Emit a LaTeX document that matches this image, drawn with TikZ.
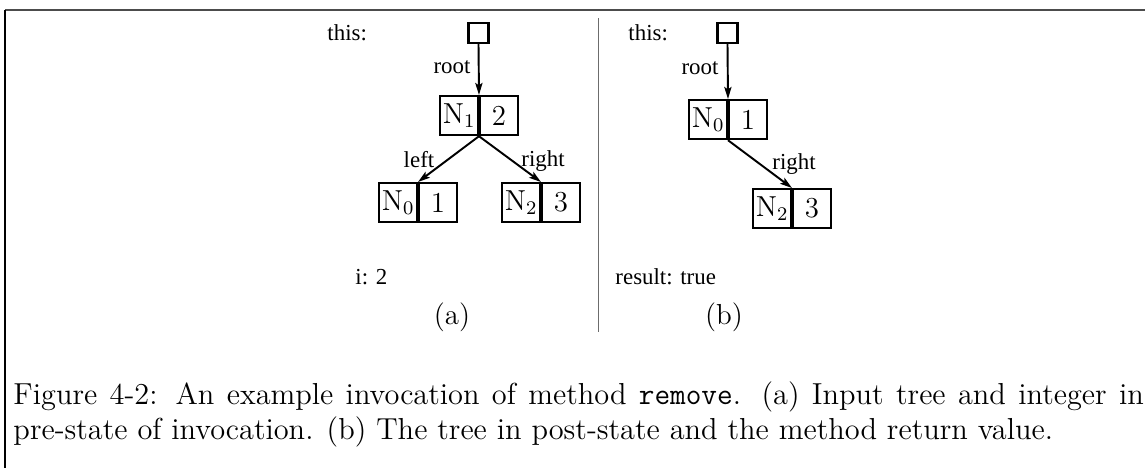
\documentclass[tikz,border=0pt]{standalone}
\usepackage{fontspec}
\newfontfamily\lblfont{Liberation Serif}
\usetikzlibrary{arrows.meta}
\tikzset{
  cell/.style={draw, line width=0.9pt, minimum width=15.6pt, minimum height=16.2pt, inner sep=0pt, font=\fontsize{12}{14}\selectfont},
  ptr/.style={draw, line width=0.9pt, minimum size=8.3pt, inner sep=0pt},
  lbl/.style={font=\lblfont\fontsize{9.5}{11}\selectfont, inner sep=0pt},
  sub/.style={font=\fontsize{12}{14}\selectfont, inner sep=0pt},
  link/.style={line width=0.8pt, -{Stealth[length=5pt,width=3pt,inset=1pt]}},
  frameline/.style={line width=0.5pt}
}
\begin{document}
\begin{tikzpicture}[x=0.4149pt,y=-0.4149pt]
\useasboundingbox (0,0) rectangle (1145,468);
% frame lines
\draw[frameline, gray!60!black] (5,10) coordinate (tl) -- (1145,10) coordinate (tr);
\draw[frameline, black] (tl) -- (5,468) coordinate (bl);
\draw[line width=0.8pt, gray!85!black] (598.5,18) coordinate (dt) -- (598.5,332) coordinate (db);
% ---- panel (a)
\node[lbl, anchor=west] (thisA) at (327,33) {this:};
\node[ptr] (ptrA) at (478.5,33) {};
\node[cell, anchor=north east] (n1k) at (479,95) {N$_1$};
\node[cell, anchor=north west] (n1v) at (479,95) {2};
\node[cell, anchor=north east] (n0k) at (418,182) {N$_0$};
\node[cell, anchor=north west] (n0v) at (418,182) {1};
\node[cell, anchor=north east] (n2k) at (541,182) {N$_2$};
\node[cell, anchor=north west] (n2v) at (541,182) {3};
\draw[link] (ptrA.south) -- (n1k.north east);
\draw[link] (n1k.south east) -- (n0k.north east);
\draw[link] (n1k.south east) -- (n2k.north east);
\node[lbl] (rootA) at (452,67) {root};
\node[lbl] (leftA) at (419,160) {left};
\node[lbl] (rightA) at (543,161) {right};
\node[lbl, anchor=west] (iA) at (355,277) {i: 2};
\node[sub] (capA) at (452,317) {(a)};
% ---- panel (b)
\node[lbl, anchor=west] (thisB) at (628,33) {this:};
\node[ptr] (ptrB) at (727.5,33) {};
\node[cell, anchor=north east] (m0k) at (728,99) {N$_0$};
\node[cell, anchor=north west] (m0v) at (728,99) {1};
\node[cell, anchor=north east] (m2k) at (792,188) {N$_2$};
\node[cell, anchor=north west] (m2v) at (792,188) {3};
\draw[link] (ptrB.south) -- (m0k.north east);
\draw[link] (m0k.south east) -- (m2k.north east);
\node[lbl] (rootB) at (700,68) {root};
\node[lbl] (rightB) at (794,164) {right};
\node[lbl, anchor=west] (resB) at (615,277) {result: true};
\node[sub] (capB) at (724,317) {(b)};
% ---- caption
\node[anchor=north west, inner sep=0pt, text width=469pt, align=justify,
      font=\fontsize{12.6}{14.5}\selectfont] (caption) at (13,381)
  {Figure 4-2: An example invocation of method \texttt{remove}. (a) Input tree and integer in\linebreak pre-state of invocation. (b) The tree in post-state and the method return value.};
\end{tikzpicture}
\end{document}
